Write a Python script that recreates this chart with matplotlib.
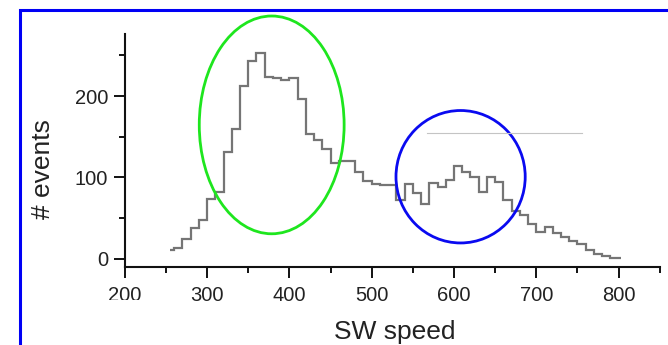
import matplotlib
matplotlib.use("Agg")
import matplotlib.pyplot as plt
import numpy as np
from matplotlib.patches import Ellipse, Rectangle

plt.rcParams.update({
    "font.family": ["Liberation Sans", "DejaVu Sans"],
    "font.size": 14.5,
})

# solar-wind speed histogram, 10 km/s bins (first and last bins partial)
bin_edges = np.array([255] + list(range(260, 800, 10)) + [803])
counts = [
    10, 13, 24, 37, 48, 73, 82, 131, 159, 212,
    243, 253, 223, 222, 220, 222.5, 196.5, 153, 146, 135,
    118, 119.5, 120, 107, 95, 91.5, 90, 90, 72, 91.5,
    80.5, 67, 93, 88.5, 96.7, 114.5, 106, 100, 82, 100.8,
    94.5, 72, 58.5, 54, 43, 33, 38.3, 32, 27, 21,
    18, 11, 6, 3, 1,
]

x_major = [200, 300, 400, 500, 600, 700, 800]
x_minor = [250, 350, 450, 550, 650, 750, 850]
y_major = [0, 100, 200]
y_minor = [50, 150, 250]

# highlighted regions: (center x, center y, width, height)
slow_wind = (378.5, 164.5, 176, 268)
fast_wind = (608, 100.7, 157, 163)
ref_line_x = [567.5, 755]
ref_line_y = 155

fig = plt.figure(figsize=(6.68, 3.45), dpi=100)
ax = fig.add_axes([0.1868, 0.2270, 0.8009, 0.6736])

ax.stairs(counts, bin_edges, baseline=None, color="#757575", lw=1.6)
ax.plot(ref_line_x, [ref_line_y, ref_line_y], color="#c4c4c4", lw=0.8)

ax.add_patch(Ellipse(slow_wind[:2], slow_wind[2], slow_wind[3],
                     fill=False, ec="#1ee61e", lw=2.0, clip_on=False))
ax.add_patch(Ellipse(fast_wind[:2], fast_wind[2], fast_wind[3],
                     fill=False, ec="#0a0af0", lw=2.0, clip_on=False))

ax.set_xlim(200, 850)
ax.set_ylim(-10, 276)
ax.set_xticks(x_major)
ax.set_xticks(x_minor, minor=True)
ax.set_yticks(y_major)
ax.set_yticks(y_minor, minor=True)
ax.tick_params(which="major", length=8, width=1.4, color="#111",
               labelcolor="#222", labelsize=14.5)
ax.tick_params(which="minor", length=4.5, width=1.4, color="#111")
ax.tick_params(axis="x", pad=6)
ax.tick_params(axis="y", pad=4)

for side in ("top", "right"):
    ax.spines[side].set_visible(False)
for side in ("left", "bottom"):
    ax.spines[side].set_linewidth(1.5)
    ax.spines[side].set_color("#111")

fig.text(43 / 668, 1 - 169 / 345, "# events", rotation=90,
         ha="center", va="center", fontsize=19, color="#222")
fig.text(395 / 668, 1 - 338.5 / 345, "SW speed", ha="center",
         va="baseline", fontsize=19, color="#222")

# lower part of the "200" label is cut off by a white band
fig.add_artist(Rectangle((100 / 668, 1 - 306 / 345), 50 / 668, 6.5 / 345,
                         transform=fig.transFigure, fc="white", ec="none",
                         zorder=5))

# blue frame around the panel
fig.add_artist(Rectangle((19.5 / 668, -0.2), 1.2, 1.2 - 10 / 345,
                         transform=fig.transFigure, fill=False,
                         ec="#0000f5", lw=2.2, zorder=6))

fig.savefig("out.png", dpi=100)
